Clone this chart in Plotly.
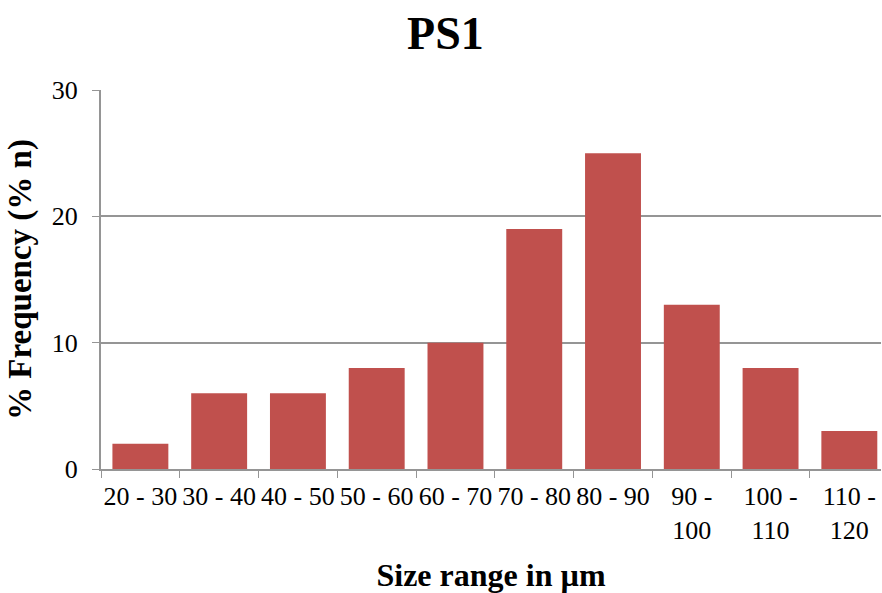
import plotly.graph_objects as go

categories = ["20 - 30", "30 - 40", "40 - 50", "50 - 60", "60 - 70", "70 - 80",
              "80 - 90", "90 -<br>100", "100 -<br>110", "110 -<br>120"]
values = [2, 6, 6, 8, 10, 19, 25, 13, 8, 3]

font_family = "Liberation Serif"
gray = "#959595"

fig = go.Figure(go.Bar(x=categories, y=values, marker=dict(color="#C0504D", line=dict(width=0))))

fig.update_layout(
    width=882, height=593,
    margin=dict(l=101, r=1, t=90, b=124),
    paper_bgcolor="white", plot_bgcolor="white",
    bargap=0.29,
    showlegend=False,
    font=dict(family=font_family, size=26, color="black"),
    title=dict(text="<b>PS1</b>", x=0.505, xanchor="center", y=0.945, yanchor="middle",
               font=dict(family=font_family, size=46, color="black")),
)
fig.update_xaxes(
    type="category", range=[-0.5, 9.402], tickson="boundaries", ticks="outside", ticklen=7, tickcolor=gray,
    tickangle=0, automargin=False, ticklabelstandoff=3,
    showline=True, linecolor=gray, linewidth=2, showgrid=False,
    tickfont=dict(family=font_family, size=26, color="black"),
    title=dict(text="<b>Size range in µm</b>", font=dict(family=font_family, size=32, color="black"), standoff=20),
)
fig.update_yaxes(
    range=[0, 30], tickvals=[0, 10, 20, 30], ticks="outside", ticklen=7, tickcolor=gray,
    automargin=False, ticklabelstandoff=9,
    showline=True, linecolor=gray, linewidth=2, showgrid=True, gridcolor=gray, gridwidth=1.5,
    zeroline=False,
    tickfont=dict(family=font_family, size=26, color="black"),
    title=dict(text="<b>% Frequency (% n)</b>", font=dict(family=font_family, size=33, color="black"), standoff=10),
)

fig.write_html("out.html")
